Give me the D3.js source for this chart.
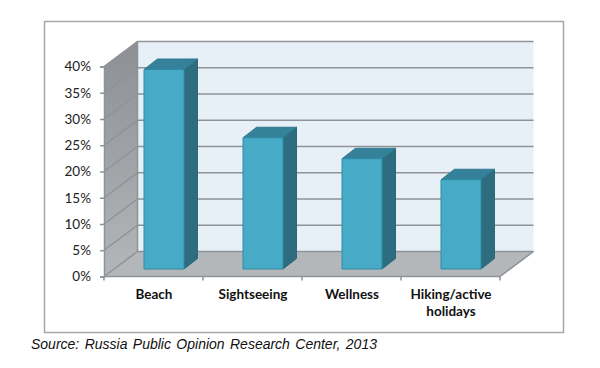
<!DOCTYPE html>
<html lang="en">
  <head>
    <meta charset="UTF-8" />
    <title>Holiday types</title>
    <script src="https://d3js.org/d3.v7.min.js"></script>
    <style>
      html, body { margin: 0; background: #fff; }
      svg { display: block; }
    </style>
  </head>
  <body>
    <div class="chart"></div>
    <script>
      const categories = ["Beach", "Sightseeing", "Wellness", "Hiking/active holidays"];
      const values = [38, 25, 21, 17];
      const yTicks = [0, 5, 10, 15, 20, 25, 30, 35, 40];
      const source = "Source: Russia Public Opinion Research Center, 2013";

      const svg = d3.select(".chart").append("svg").attr("width", 600).attr("height", 368);

      // outer frame
      svg.append("rect")
        .attr("x", 44.5).attr("y", 21.5).attr("width", 519).attr("height", 311)
        .attr("fill", "#fff").attr("stroke", "#a6a6a6").attr("stroke-width", 1.5);

      // scales
      const x = d3.scaleBand().domain(categories).range([104, 500]);
      const y = d3.scaleLinear().domain([0, 40]).range([276.5, 66.5]);

      // depth of the 3D box, and of the bars inside it
      const depth = { dx: 33.5, dy: -25 };
      const barDepth = { dx: 13.5, dy: -10.5 };
      const barShift = { dx: 10.5, dy: -7.5 };
      const barWidth = 40;

      const poly = (pts, fill, stroke) =>
        svg.append("polygon")
          .attr("points", pts.map((p) => p.join(",")).join(" "))
          .attr("fill", fill)
          .attr("stroke", stroke || "none");

      const [x0, x1] = x.range();
      const yBase = y(0);
      const yTop = y(40);

      // back wall
      poly([[x0 + depth.dx, yTop + depth.dy], [x1 + depth.dx, yTop + depth.dy],
            [x1 + depth.dx, yBase + depth.dy], [x0 + depth.dx, yBase + depth.dy]], "#e8f0f7");

      // side wall
      const wall = svg.append("defs").append("linearGradient")
        .attr("id", "wall").attr("x1", 0).attr("y1", 0).attr("x2", 0).attr("y2", 1);
      wall.append("stop").attr("offset", 0).attr("stop-color", "#8c8f93");
      wall.append("stop").attr("offset", 1).attr("stop-color", "#b4b7ba");
      poly([[x0, yTop], [x0 + depth.dx, yTop + depth.dy],
            [x0 + depth.dx, yBase + depth.dy], [x0, yBase]], "url(#wall)");

      // floor
      poly([[x0, yBase], [x0 + depth.dx, yBase + depth.dy],
            [x1 + depth.dx, yBase + depth.dy], [x1, yBase]], "#b3b7ba");

      // gridlines on the walls
      const grid = svg.append("g").attr("fill", "none").attr("stroke", "#8f9397").attr("stroke-width", 1.5);
      yTicks.forEach((t) => {
        grid.append("path").attr("d", d3.line()([
          [x0, y(t)], [x0 + depth.dx, y(t) + depth.dy], [x1 + depth.dx, y(t) + depth.dy]
        ]));
      });
      grid.append("path").attr("d", d3.line()([
        [x0 + depth.dx, yTop + depth.dy], [x0 + depth.dx, yBase + depth.dy]
      ]));
      grid.append("path").attr("d", d3.line()([
        [x0, yBase], [x1, yBase], [x1 + depth.dx, yBase + depth.dy]
      ]));

      // bars
      categories.forEach((c, i) => {
        const left = x(c) + (x.bandwidth() - barWidth) / 2 + barShift.dx;
        const right = left + barWidth;
        const top = y(values[i]) + barShift.dy;
        const bottom = y(0) + barShift.dy;
        poly([[right, top], [right + barDepth.dx, top + barDepth.dy],
              [right + barDepth.dx, bottom + barDepth.dy], [right, bottom]], "#2e6d80", "#2b6878");
        poly([[left, top], [left + barDepth.dx, top + barDepth.dy],
              [right + barDepth.dx, top + barDepth.dy], [right, top]], "#35819a", "#2f7a90");
        poly([[left, top], [right, top], [right, bottom], [left, bottom]], "#47abc8", "#2f8ba6");
      });

      // y axis
      const yAxis = svg.append("g").attr("transform", `translate(${x0}, 0)`)
        .call(d3.axisLeft(y).tickValues(yTicks).tickSize(4).tickPadding(9).tickFormat((d) => d + "%"));
      yAxis.select(".domain").attr("stroke", "#8f9397").attr("stroke-width", 1.5);
      yAxis.selectAll("line").attr("stroke", "#8f9397").attr("stroke-width", 1.5);
      yAxis.selectAll("text").attr("font-family", "Lato").attr("font-size", 13.5).attr("fill", "#222");

      // x axis
      const xAxis = svg.append("g").attr("transform", `translate(0, ${yBase})`)
        .call(d3.axisBottom(x).tickSize(0).tickFormat(""));
      xAxis.select(".domain").remove();
      xAxis.selectAll("line").remove();
      const xEdges = [x0, ...categories.map((c) => x(c) + x.bandwidth())];
      xAxis.selectAll("line.edge").data(xEdges).join("line").attr("class", "edge")
        .attr("x1", (d) => d).attr("x2", (d) => d).attr("y1", 0).attr("y2", 4)
        .attr("stroke", "#8f9397").attr("stroke-width", 1.5);

      // category labels, wrapped at the space after the slash
      const labels = svg.append("g").attr("font-family", "Lato").attr("font-weight", 700)
        .attr("font-size", 13.5).attr("fill", "#111").attr("text-anchor", "middle");
      categories.forEach((c) => {
        const lines = c === "Hiking/active holidays" ? ["Hiking/active", "holidays"] : [c];
        lines.forEach((l, j) => {
          labels.append("text").attr("x", x(c) + x.bandwidth() / 2 + 0.5).attr("y", 299 + j * 17).text(l);
        });
      });

      svg.append("text").attr("x", 31).attr("y", 349)
        .attr("font-family", "Liberation Sans").attr("font-style", "italic")
        .attr("font-size", 14).attr("word-spacing", 1.5).attr("fill", "#111").text(source);
    </script>
  </body>
</html>
